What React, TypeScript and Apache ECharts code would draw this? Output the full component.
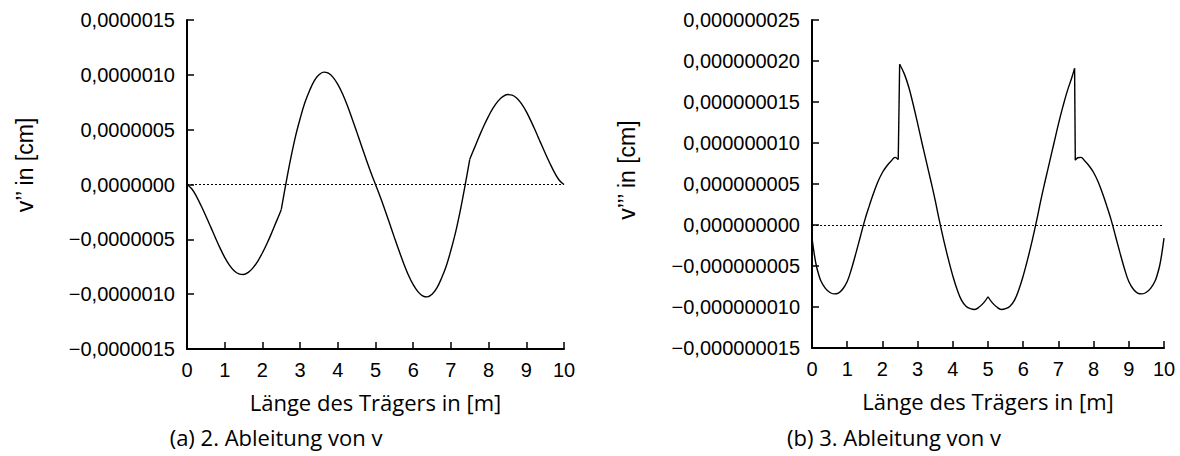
import React, { useEffect, useRef } from "react";
import * as echarts from "echarts";

// ---------- tick labels ----------
const xTickLabels = ["0", "1", "2", "3", "4", "5", "6", "7", "8", "9", "10"];
const leftYTickLabels = [
  "−0,0000015", "−0,0000010", "−0,0000005", "0,0000000",
  "0,0000005", "0,0000010", "0,0000015",
];
const rightYTickLabels = [
  "−0,000000015", "−0,000000010", "−0,000000005", "0,000000000",
  "0,000000005", "0,000000010", "0,000000015", "0,000000020", "0,000000025",
];

// ---------- (a) 2. Ableitung von v  (v'' in cm) ----------
const a1X = [0, 0.125, 0.25, 0.375, 0.5, 0.625, 0.75, 0.875, 1.0, 1.125, 1.25, 1.375, 1.5, 1.625, 1.75, 1.875, 2.0, 2.125, 2.25, 2.375, 2.5];
const a1Y = [0, -0.39e-7, -1.08e-7, -1.94e-7, -2.87e-7, -3.84e-7, -4.83e-7, -5.78e-7, -6.65e-7, -7.36e-7, -7.87e-7, -8.15e-7, -8.2e-7, -8.01e-7, -7.6e-7, -7.0e-7, -6.24e-7, -5.36e-7, -4.38e-7, -3.34e-7, -2.3e-7];

const a2X = [2.5, 2.625, 2.75, 2.875, 3.0, 3.125, 3.25, 3.375, 3.5, 3.625, 3.75, 3.875, 4.0, 4.125, 4.25, 4.375, 4.5, 4.625, 4.75, 4.875, 5.0,
  5.125, 5.25, 5.375, 5.5, 5.625, 5.75, 5.875, 6.0, 6.125, 6.25, 6.375, 6.5, 6.625, 6.75, 6.875, 7.0, 7.125, 7.25, 7.375, 7.5];
const a2Y = [-2.3e-7, 0.1e-7, 2.35e-7, 4.35e-7, 6.0e-7, 7.45e-7, 8.55e-7, 9.45e-7, 10.0e-7, 10.25e-7, 10.15e-7, 9.77e-7, 9.13e-7, 8.27e-7, 7.22e-7, 6.05e-7, 4.82e-7, 3.56e-7, 2.32e-7, 1.12e-7, 0,
  -1.12e-7, -2.32e-7, -3.56e-7, -4.82e-7, -6.05e-7, -7.22e-7, -8.27e-7, -9.13e-7, -9.77e-7, -10.15e-7, -10.25e-7, -10.0e-7, -9.45e-7, -8.55e-7, -7.45e-7, -6.0e-7, -4.35e-7, -2.35e-7, -0.1e-7, 2.3e-7];

const a3X = [7.5, 7.625, 7.75, 7.875, 8.0, 8.125, 8.25, 8.375, 8.5, 8.625, 8.75, 8.875, 9.0, 9.125, 9.25, 9.375, 9.5, 9.625, 9.75, 9.875, 10];
const a3Y = [2.3e-7, 3.34e-7, 4.38e-7, 5.36e-7, 6.24e-7, 7.0e-7, 7.6e-7, 8.01e-7, 8.2e-7, 8.15e-7, 7.87e-7, 7.36e-7, 6.65e-7, 5.78e-7, 4.83e-7, 3.84e-7, 2.87e-7, 1.94e-7, 1.08e-7, 0.39e-7, 0];

// ---------- (b) 3. Ableitung von v  (v''' in cm) ----------
const b1X = [0, 0.0625, 0.125, 0.1875, 0.25, 0.375, 0.5, 0.625, 0.75, 0.875, 1.0, 1.125, 1.25, 1.375, 1.5, 1.625, 1.75, 1.875, 2.0, 2.125, 2.25, 2.36, 2.45];
const b1Y = [-1.6e-9, -3.5e-9, -5.0e-9, -6.0e-9, -6.8e-9, -7.7e-9, -8.2e-9, -8.4e-9, -8.3e-9, -7.8e-9, -6.9e-9, -5.3e-9, -3.4e-9, -1.4e-9, 0.6e-9, 2.3e-9, 3.9e-9, 5.3e-9, 6.4e-9, 7.2e-9, 7.8e-9, 8.25e-9, 8.0e-9];

const b2X = [2.45, 2.49];
const b2Y = [8.0e-9, 19.6e-9];

const b3X = [2.49, 2.625, 2.75, 2.875, 3.0, 3.125, 3.25, 3.375, 3.5, 3.625, 3.75, 3.875, 4.0, 4.125, 4.25, 4.375, 4.5, 4.625, 4.75, 4.875, 5.0];
const b3Y = [19.6e-9, 18.4e-9, 16.8e-9, 14.7e-9, 12.4e-9, 10.0e-9, 7.7e-9, 5.4e-9, 3.0e-9, 0.4e-9, -2.0e-9, -4.2e-9, -6.2e-9, -7.9e-9, -9.2e-9, -9.9e-9, -10.2e-9, -10.3e-9, -10.0e-9, -9.5e-9, -8.75e-9];

const b4X = [5.0, 5.125, 5.25, 5.375, 5.5, 5.625, 5.75, 5.875, 6.0, 6.125, 6.25, 6.375, 6.5, 6.625, 6.75, 6.875, 7.0, 7.125, 7.25, 7.375, 7.46];
const b4Y = [-8.75e-9, -9.5e-9, -10.0e-9, -10.3e-9, -10.2e-9, -9.9e-9, -9.2e-9, -7.9e-9, -6.2e-9, -4.2e-9, -2.0e-9, 0.4e-9, 3.0e-9, 5.4e-9, 7.7e-9, 10.0e-9, 12.3e-9, 14.4e-9, 16.3e-9, 17.9e-9, 19.1e-9];

const b5X = [7.46, 7.48];
const b5Y = [19.1e-9, 7.9e-9];

const b6X = [7.48, 7.55, 7.64, 7.75, 7.875, 8.0, 8.125, 8.25, 8.375, 8.5, 8.625, 8.75, 8.875, 9.0, 9.125, 9.25, 9.375, 9.5, 9.625, 9.75, 9.8125, 9.875, 9.9375, 10];
const b6Y = [7.9e-9, 8.2e-9, 8.25e-9, 7.8e-9, 7.2e-9, 6.4e-9, 5.3e-9, 3.9e-9, 2.3e-9, 0.6e-9, -1.4e-9, -3.4e-9, -5.3e-9, -6.9e-9, -7.8e-9, -8.3e-9, -8.4e-9, -8.2e-9, -7.7e-9, -6.8e-9, -6.0e-9, -5.0e-9, -3.5e-9, -1.6e-9];

const xName = "Länge des Trägers in [m]";
const leftYName = "v’’ in [cm]";
const rightYName = "v’’’ in [cm]";
const leftCaption = "(a) 2. Ableitung von v";
const rightCaption = "(b) 3. Ableitung von v";

const zip = (xs: number[], ys: number[]) => xs.map((x, i) => [x, ys[i]]);

const TICK_FONT = "'Liberation Sans', Arial, sans-serif";
const TEXT_FONT = "'Open Sans', sans-serif";

function makeX(gridIndex: number) {
  return {
    type: "value",
    gridIndex,
    min: 0,
    max: 10,
    interval: 1,
    name: xName,
    nameLocation: "middle",
    nameGap: 42,
    nameTextStyle: { fontFamily: TEXT_FONT, fontSize: 22, color: "#000" },
    axisLine: { show: true, onZero: false, lineStyle: { color: "#000", width: 2 } },
    axisTick: { show: true, inside: true, length: 7, lineStyle: { color: "#000", width: 1.5 } },
    axisLabel: {
      color: "#000",
      fontFamily: TICK_FONT,
      fontSize: 20,
      margin: 11,
      formatter: (v: number) => xTickLabels[Math.round(v)] ?? "",
    },
    splitLine: { show: false },
  };
}

function makeY(gridIndex: number, min: number, max: number, interval: number, labels: string[]) {
  return {
    type: "value",
    gridIndex,
    min,
    max,
    interval,
    axisLine: { show: true, onZero: false, lineStyle: { color: "#000", width: 2 } },
    axisTick: { show: true, inside: true, length: 7, lineStyle: { color: "#000", width: 1.5 } },
    axisLabel: {
      color: "#000",
      fontFamily: TICK_FONT,
      fontSize: 20,
      margin: 12,
      formatter: (v: number) => labels[Math.round((v - min) / interval)] ?? "",
    },
    splitLine: { show: false },
  };
}

function lineSeries(grid: number, xs: number[], ys: number[], smooth: number | boolean, withZero = false) {
  const s: any = {
    type: "line",
    xAxisIndex: grid,
    yAxisIndex: grid,
    data: zip(xs, ys),
    showSymbol: false,
    symbol: "none",
    smooth,
    lineStyle: { color: "#000", width: 1.4 },
    z: 3,
  };
  if (withZero) {
    s.markLine = {
      silent: true,
      symbol: "none",
      label: { show: false },
      lineStyle: { color: "#000", width: 1, type: [2, 2] },
      data: [{ yAxis: 0 }],
      z: 2,
    };
  }
  return s;
}

export default function App() {
  const ref = useRef<HTMLDivElement>(null);

  useEffect(() => {
    if (!ref.current) return;
    const chart = echarts.init(ref.current, null, { renderer: "svg" });
    const SM = 0.4;
    const option: any = {
      animation: false,
      backgroundColor: "#fff",
      grid: [
        { left: 187, top: 20, width: 377, height: 329 },
        { left: 812, top: 20, width: 352, height: 328 },
      ],
      xAxis: [makeX(0), makeX(1)],
      yAxis: [
        makeY(0, -1.5e-6, 1.5e-6, 5e-7, leftYTickLabels),
        makeY(1, -1.5e-8, 2.5e-8, 5e-9, rightYTickLabels),
      ],
      series: [
        lineSeries(0, a1X, a1Y, SM, true),
        lineSeries(0, a2X, a2Y, SM),
        lineSeries(0, a3X, a3Y, SM),
        lineSeries(1, b1X, b1Y, SM, true),
        lineSeries(1, b2X, b2Y, false),
        lineSeries(1, b3X, b3Y, SM),
        lineSeries(1, b4X, b4Y, SM),
        lineSeries(1, b5X, b5Y, false),
        lineSeries(1, b6X, b6Y, SM),
      ],
      graphic: [
        {
          type: "text",
          x: 25,
          y: 165,
          rotation: Math.PI / 2,
          style: { text: leftYName, fontFamily: TICK_FONT, fontSize: 23, fill: "#000", align: "center", verticalAlign: "middle" },
        },
        {
          type: "text",
          x: 627,
          y: 170,
          rotation: Math.PI / 2,
          style: { text: rightYName, fontFamily: TICK_FONT, fontSize: 23, fill: "#000", align: "center", verticalAlign: "middle" },
        },
        {
          type: "text",
          x: 276,
          y: 437,
          style: { text: leftCaption, fontFamily: TEXT_FONT, fontSize: 22, fill: "#000", align: "center", verticalAlign: "middle" },
        },
        {
          type: "text",
          x: 894,
          y: 437,
          style: { text: rightCaption, fontFamily: TEXT_FONT, fontSize: 22, fill: "#000", align: "center", verticalAlign: "middle" },
        },
      ],
    };
    chart.setOption(option);
    return () => chart.dispose();
  }, []);

  return (
    <div
      ref={ref}
      style={{ position: "fixed", left: 0, top: 0, width: 1180, height: 456, background: "#fff" }}
    />
  );
}
